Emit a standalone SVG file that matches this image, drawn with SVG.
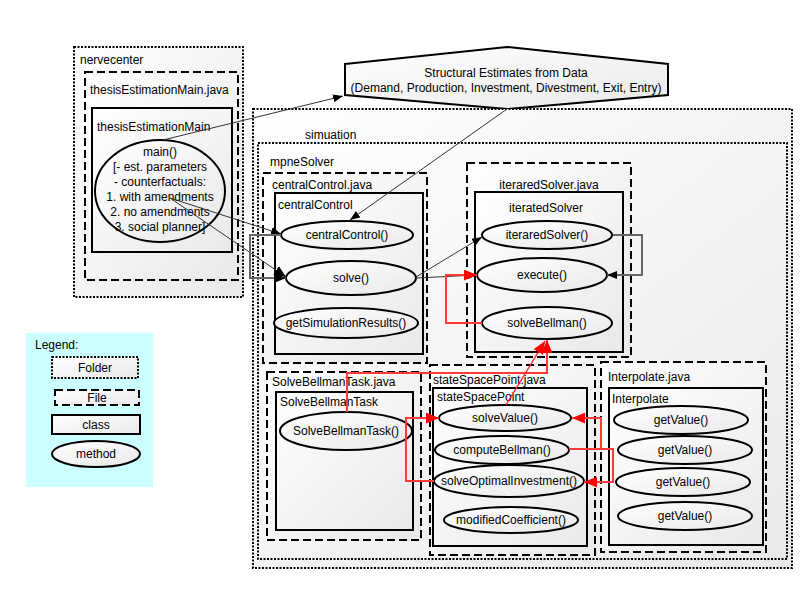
<svg xmlns="http://www.w3.org/2000/svg" width="800" height="600" viewBox="0 0 800 600">
<defs>
<linearGradient id="g" x1="0" y1="0" x2="1" y2="1">
<stop offset="0" stop-color="#ffffff"/>
<stop offset="1" stop-color="#e9e9e9"/>
</linearGradient>
<marker id="ab" viewBox="0 0 10 8" refX="10" refY="4" markerWidth="10" markerHeight="8" markerUnits="userSpaceOnUse" orient="auto">
<path d="M0,0 L10,4 L0,8 z" fill="#000"/>
</marker>
<marker id="abg" viewBox="0 0 12 10" refX="12" refY="5" markerWidth="12" markerHeight="10" markerUnits="userSpaceOnUse" orient="auto">
<path d="M0,0 L12,5 L0,10 z" fill="#000"/>
</marker>
<marker id="ar" viewBox="0 0 12 10" refX="12" refY="5" markerWidth="13" markerHeight="11" markerUnits="userSpaceOnUse" orient="auto">
<path d="M0,0 L12,5 L0,10 z" fill="#ff0000"/>
</marker>
</defs>
<style>
text{font-family:"Liberation Sans",Arial,sans-serif;font-size:12px;fill:#000}
.c{text-anchor:middle}
.folder{fill:url(#g);stroke:#000;stroke-width:2;stroke-dasharray:2 1.5}
.file{fill:url(#g);stroke:#000;stroke-width:2;stroke-dasharray:8 4}
.cls{fill:url(#g);stroke:#000;stroke-width:2}
.m{fill:url(#g);stroke:#000;stroke-width:2}
.thin{fill:none;stroke:#333;stroke-width:1}
.grey{fill:none;stroke:#666;stroke-width:2}
.red{fill:none;stroke:#ff3b3b;stroke-width:2}
.redthin{fill:none;stroke:#ff2020;stroke-width:1.3}
</style>

<g id="nervecenter">
<rect class="folder" x="74" y="47" width="169" height="250"/>
<text x="80" y="64">nervecenter</text>
</g>
<g id="thesisEstimationMain-java">
<rect class="file" x="85" y="72" width="153" height="208"/>
<text x="90" y="94">thesisEstimationMain.java</text>
</g>
<g id="thesisEstimationMain">
<rect class="cls" x="92" y="108" width="140" height="144"/>
<text x="97" y="131">thesisEstimationMain</text>
</g>
<g id="main">
<ellipse class="m" cx="160" cy="191" rx="65" ry="51"/>
<text class="c" x="160" y="156">main()</text>
<text class="c" x="160" y="171">[- est. parameters</text>
<text class="c" x="160" y="186">- counterfactuals:</text>
<text class="c" x="160" y="201">1. with amendments</text>
<text class="c" x="160" y="216">2. no amendments</text>
<text class="c" x="160" y="231">3. social planner]</text>
</g>

<g id="structural-estimates">
<polygon points="345,64 507,47 668,64 668,95 507,109 345,95" fill="url(#g)" stroke="#000" stroke-width="2"/>
<text class="c" x="506" y="77">Structural Estimates from Data</text>
<text class="c" x="506" y="92">(Demand, Production, Investment, Divestment, Exit, Entry)</text>
</g>

<g id="simulation">
<rect class="folder" x="253" y="109" width="539" height="459"/>
<text x="305" y="139">simuation</text>
</g>
<g id="mpneSolver">
<rect class="folder" x="258" y="143" width="529" height="416"/>
<text x="270" y="166">mpneSolver</text>
</g>

<g id="centralControl-java">
<rect class="file" x="263" y="173" width="164" height="190"/>
<text x="272" y="189">centralControl.java</text>
</g>
<g id="centralControl">
<rect class="cls" x="275" y="193" width="148" height="161"/>
<text x="278" y="209">centralControl</text>
</g>
<g id="centralControl-m">
<ellipse class="m" cx="347" cy="235" rx="66" ry="14"/>
<text class="c" x="347" y="239">centralControl()</text>
</g>
<g id="solve">
<ellipse class="m" cx="351" cy="278" rx="65" ry="17"/>
<text class="c" x="351" y="282">solve()</text>
</g>
<g id="getSimulationResults">
<ellipse class="m" cx="346" cy="323" rx="72" ry="15"/>
<text class="c" x="346" y="327">getSimulationResults()</text>
</g>

<g id="iteraredSolver-java">
<rect class="file" x="467" y="163" width="164" height="194"/>
<text class="c" x="549" y="189">iteraredSolver.java</text>
</g>
<g id="iteratedSolver">
<rect class="cls" x="475" y="192" width="148" height="160"/>
<text class="c" x="546" y="212">iteratedSolver</text>
</g>
<g id="iteraredSolver-m">
<ellipse class="m" cx="547" cy="235" rx="65" ry="14"/>
<text class="c" x="547" y="239">iteraredSolver()</text>
</g>
<g id="execute">
<ellipse class="m" cx="542" cy="275" rx="65" ry="17"/>
<text class="c" x="542" y="279">execute()</text>
</g>
<g id="solveBellman">
<ellipse class="m" cx="547" cy="323" rx="65" ry="16"/>
<text class="c" x="547" y="327">solveBellman()</text>
</g>

<g id="SolveBellmanTask-java">
<rect class="file" x="267" y="372" width="154" height="168"/>
<text x="272" y="386">SolveBellmanTask.java</text>
</g>
<g id="SolveBellmanTask">
<rect class="cls" x="276" y="392" width="137" height="138"/>
<text x="280" y="406">SolveBellmanTask</text>
</g>
<g id="SolveBellmanTask-m">
<ellipse class="m" cx="346" cy="431" rx="66" ry="19"/>
<text class="c" x="346" y="435">SolveBellmanTask()</text>
</g>

<g id="stateSpacePoint-java">
<rect class="file" x="430" y="365" width="165" height="190"/>
<text x="433" y="384">stateSpacePoint.java</text>
</g>
<g id="stateSpacePoint">
<rect class="cls" x="433" y="388" width="154" height="158"/>
<text x="437" y="401">stateSpacePoint</text>
</g>
<g id="solveValue">
<ellipse class="m" cx="505" cy="418" rx="66" ry="13"/>
<text class="c" x="505" y="422">solveValue()</text>
</g>
<g id="computeBellman">
<ellipse class="m" cx="502" cy="450" rx="67" ry="14"/>
<text class="c" x="502" y="454">computeBellman()</text>
</g>
<g id="solveOptimalInvestment">
<ellipse class="m" cx="509" cy="481" rx="75" ry="16"/>
<text class="c" x="509" y="485">solveOptimalInvestment()</text>
</g>
<g id="modifiedCoefficient">
<ellipse class="m" cx="511" cy="520" rx="67" ry="13"/>
<text class="c" x="511" y="524">modifiedCoefficient()</text>
</g>

<g id="Interpolate-java">
<rect class="file" x="601" y="362" width="165" height="190"/>
<text x="608" y="381">Interpolate.java</text>
</g>
<g id="Interpolate">
<rect class="cls" x="609" y="388" width="154" height="157"/>
<text x="612" y="403">Interpolate</text>
</g>
<g id="getValue1">
<ellipse class="m" cx="681" cy="420" rx="67" ry="14"/>
<text class="c" x="681" y="424">getValue()</text>
</g>
<g id="getValue2">
<ellipse class="m" cx="685" cy="450" rx="67" ry="14"/>
<text class="c" x="685" y="454">getValue()</text>
</g>
<g id="getValue3">
<ellipse class="m" cx="683" cy="482" rx="67" ry="14"/>
<text class="c" x="683" y="486">getValue()</text>
</g>
<g id="getValue4">
<ellipse class="m" cx="685" cy="516" rx="67" ry="14"/>
<text class="c" x="685" y="520">getValue()</text>
</g>

<g id="legend">
<rect x="26" y="333" width="127" height="154" fill="#ccffff"/>
<text x="35" y="349">Legend:</text>
<rect class="folder" x="52" y="357" width="86" height="21"/>
<text class="c" x="95" y="372">Folder</text>
<rect class="file" x="55" y="390" width="84" height="15"/>
<text class="c" x="97" y="402">File</text>
<rect class="cls" x="52" y="415" width="88" height="19"/>
<text class="c" x="96" y="429">class</text>
<ellipse class="m" cx="96" cy="454" rx="44" ry="13"/>
<text class="c" x="96" y="458">method</text>
</g>

<g id="connectors">
<path class="thin" d="M163,140 L343,96" marker-end="url(#ab)"/>
<path class="thin" d="M507,109 L350,220" marker-end="url(#ab)"/>
<path class="thin" d="M170,198 L281,234" marker-end="url(#ab)"/>
<path class="thin" d="M170,198 L286,277" marker-end="url(#abg)"/>
<path class="grey" d="M281,235 H250 V278 H286" marker-end="url(#abg)"/>
<path class="thin" d="M416,277 L482,237" marker-end="url(#ab)"/>
<path class="thin" d="M416,278 L477,275" marker-end="url(#ab)"/>
<path class="grey" d="M613,235 H642 V275 H607" marker-end="url(#ab)"/>
<path class="red" d="M482,323 H446 V275 H477" marker-end="url(#ar)"/>
<path class="red" d="M347,412 V373 H547 V340" marker-end="url(#ar)"/>
<path class="redthin" d="M506,405 L545,341" marker-end="url(#ar)"/>
<path class="red" d="M434,481 H406 V418 H439" marker-end="url(#ar)"/>
<path class="red" d="M569,449 H613 V482 H584" marker-end="url(#ar)"/>
<path class="red" d="M601,449 V418 H572" marker-end="url(#ar)"/>
</g>
</svg>
